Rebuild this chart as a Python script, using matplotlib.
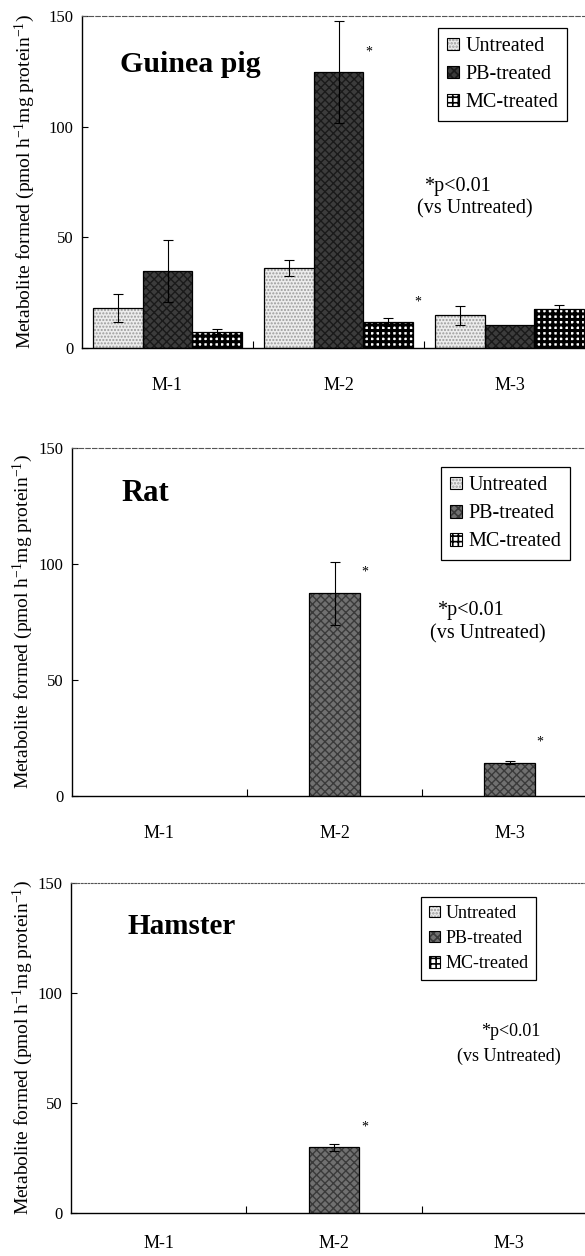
import matplotlib
matplotlib.use("Agg")
import matplotlib.pyplot as plt
import numpy as np
from matplotlib.patches import Patch
from matplotlib.legend_handler import HandlerTuple

plt.rcParams['font.family'] = ['Liberation Serif', 'DejaVu Serif']
plt.rcParams['mathtext.fontset'] = 'custom'
plt.rcParams['mathtext.rm'] = 'Liberation Serif'
plt.rcParams['mathtext.it'] = 'Liberation Serif:italic'
plt.rcParams['hatch.linewidth'] = 1.2

# data (pmol/h/mg protein)
categories = ['M-1', 'M-2', 'M-3']
series = ['Untreated', 'PB-treated', 'MC-treated']

gp_untreated = [18.0, 36.3, 14.8]
gp_untreated_err = [6.3, 3.6, 4.2]
gp_pb = [35.0, 124.6, 10.6]
gp_pb_err = [14.0, 23.0, 0.0]
gp_mc = [7.3, 11.8, 17.5]
gp_mc_err = [1.2, 1.8, 2.0]

rat_untreated = [0, 0, 0]
rat_untreated_err = [0, 0, 0]
rat_pb = [0, 87.4, 14.3]
rat_pb_err = [0, 13.5, 0.6]
rat_mc = [0, 0, 0]
rat_mc_err = [0, 0, 0]

ham_untreated = [0, 0, 0]
ham_untreated_err = [0, 0, 0]
ham_pb = [0, 29.9, 0]
ham_pb_err = [0, 1.5, 0]
ham_mc = [0, 0, 0]
ham_mc_err = [0, 0, 0]

# (category index, series index) marked with * (p<0.01 vs untreated)
gp_sig = [(1, 1), (1, 2)]
rat_sig = [(1, 1), (2, 1)]
ham_sig = [(1, 1)]

ylabel = 'Metabolite formed (pmol h$^{-1}$mg protein$^{-1}$)'

W, H = 585, 1256
fig = plt.figure(figsize=(W / 100, H / 100), dpi=100)

width = 0.29


def styles(pb_face, pb_hatch):
    return [
        dict(face='#ececec', hatch='.....', hcol='#9a9a9a', hlw=1.0),
        dict(face=pb_face, hatch='xxxx', hcol=pb_hatch, hlw=1.0),
        dict(face='white', hatch='+++', hcol='black', hlw=2.2),
    ]


def set_hlw(patches, lw):
    for p in patches:
        if hasattr(p, 'set_hatch_linewidth'):
            p.set_hatch_linewidth(lw)


def panel(box, title, vals, errs, sig, sty, title_xy, title_size,
          leg_xy, leg_size, leg_space, note_xy, note_size, ylab_x, top_ls, xpad):
    l, t, r, b = box
    ax = fig.add_axes([l / W, 1 - b / H, (r - l) / W, (b - t) / H])
    x = np.arange(len(categories))
    handles = []
    for i, (v, e, s) in enumerate(zip(vals, errs, sty)):
        pos = x + (i - 1) * width
        v = np.array(v, dtype=float)
        m = v > 0
        with plt.rc_context({'hatch.linewidth': s['hlw']}):
            bars = ax.bar(pos[m], v[m], width, color=s['face'], hatch=s['hatch'],
                          edgecolor=s['hcol'], linewidth=0, zorder=2)
            set_hlw(bars, s['hlw'])
            h1 = Patch(facecolor=s['face'], hatch=s['hatch'], edgecolor=s['hcol'], linewidth=0)
            set_hlw([h1], s['hlw'])
        ax.bar(pos[m], v[m], width, fill=False, edgecolor='black',
               linewidth=0.9, zorder=3)
        e = np.array(e, dtype=float)
        me = m & (e > 0)
        ax.errorbar(pos[me], v[me], yerr=e[me], fmt='none', ecolor='black',
                    elinewidth=0.8, capsize=3.5, capthick=0.8, zorder=4)
        h2 = Patch(fill=False, edgecolor='black', linewidth=0.8)
        handles.append((h1, h2))
    for ci, si in sig:
        v = vals[si][ci]
        ax.text(ci + (si - 1) * width + width / 2 + 0.03, v + 9, '*',
                fontsize=10, ha='center', va='center')

    ax.set_xlim(-0.5, 2.5)
    ax.set_ylim(0, 150)
    ax.set_yticks([0, 50, 100, 150])
    ax.tick_params(axis='y', direction='in', length=4, width=0.8, labelsize=12, pad=6)
    ax.set_xticks([0.5, 1.5])
    ax.set_xticklabels([])
    ax.tick_params(axis='x', which='major', direction='in', length=5, width=0.8)
    ax.set_xticks(x, minor=True)
    ax.set_xticklabels(categories, minor=True, fontsize=13)
    ax.tick_params(axis='x', which='minor', length=0, pad=xpad)
    ax.spines['right'].set_visible(False)
    ax.spines['top'].set_linestyle(top_ls)
    ax.spines['top'].set_color('#555555')
    ax.spines['top'].set_linewidth(0.8)
    ax.spines['left'].set_linewidth(1.0)
    ax.spines['bottom'].set_linewidth(1.0)

    ax.set_ylabel(ylabel, fontsize=14)
    ax.yaxis.set_label_coords(ylab_x, 0.5)

    ax.text(title_xy[0], title_xy[1], title, fontsize=title_size,
            fontweight='bold', ha='left', va='center')

    leg = ax.legend(handles, series, loc='upper left', bbox_to_anchor=leg_xy,
                    borderaxespad=0, fontsize=leg_size, frameon=True,
                    fancybox=False, edgecolor='black', framealpha=1,
                    handlelength=0.6, handleheight=0.6, handletextpad=0.3,
                    labelspacing=leg_space, borderpad=0.45,
                    handler_map={tuple: HandlerTuple(ndivide=1)})
    leg.get_frame().set_linewidth(0.9)

    (x1, y1), (x2, y2), size = note_xy[0], note_xy[1], note_size
    ax.text(x1, y1, '*p<0.01', fontsize=size, ha='left', va='center')
    ax.text(x2, y2, '(vs Untreated)', fontsize=size, ha='left', va='center')
    return ax


panel((82, 16, 595, 348), 'Guinea pig',
      [gp_untreated, gp_pb, gp_mc], [gp_untreated_err, gp_pb_err, gp_mc_err],
      gp_sig, styles('#3c3c3c', '#1a1a1a'), (-0.28, 128), 21.5,
      (0.694, 0.964), 14.5, 0.45, ((1.5, 73), (1.457, 62.7)), 14.5, -0.088,
      (0, (4, 2)), 21)

panel((72, 448, 597, 796), 'Rat',
      [rat_untreated, rat_pb, rat_mc], [rat_untreated_err, rat_pb_err, rat_mc_err],
      rat_sig, styles('#707070', '#3a3a3a'), (-0.217, 130.5), 22,
      (0.703, 0.945), 14.5, 0.45, ((1.585, 79.9), (1.543, 69.8)), 14.5, -0.070,
      (0, (4, 2)), 21)

panel((71, 883, 597, 1213), 'Hamster',
      [ham_untreated, ham_pb, ham_mc], [ham_untreated_err, ham_pb_err, ham_mc_err],
      ham_sig, styles('#707070', '#3a3a3a'), (-0.18, 130), 21,
      (0.665, 0.958), 13, 0.45, ((1.84, 82.4), (1.70, 71.1)), 13, -0.068,
      (0, (1.5, 1.5)), 16)

fig.savefig('out.png', dpi=100)
